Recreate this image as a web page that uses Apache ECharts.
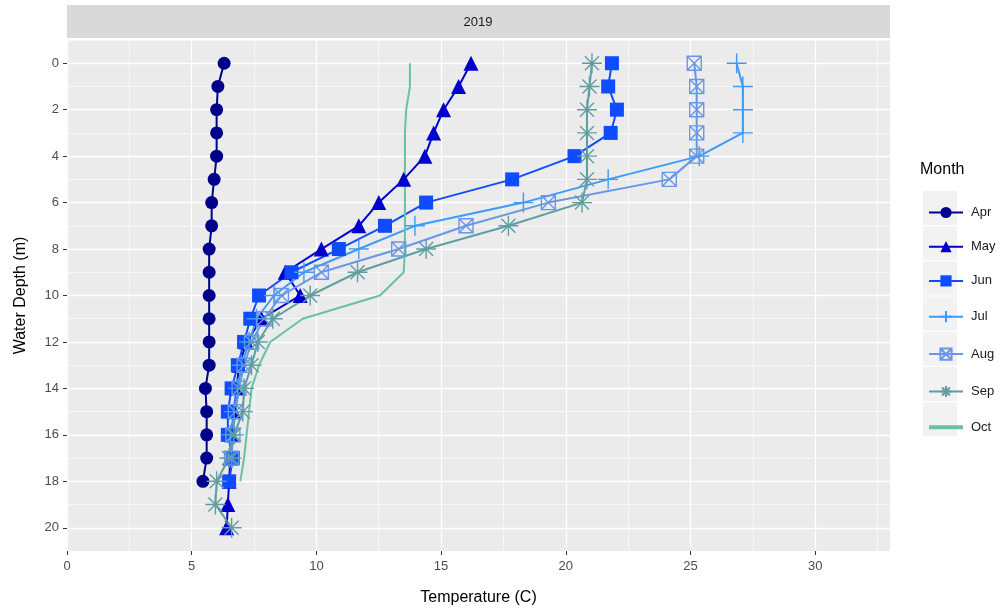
<!DOCTYPE html>
<html>
<head>
<meta charset="utf-8">
<script src="https://cdn.jsdelivr.net/npm/echarts@6/dist/echarts.min.js"></script>
<style>
html,body{margin:0;padding:0;background:#fff}
#chart{width:1002px;height:613px}
</style>
</head>
<body>
<div id="chart"></div>
<script>
// depth (m) of each reading, temperatures per month read top -> bottom
let depths=[0,1,2,3,4,5,6,7,8,9,10,11,12,13,14,15,16,17,18,19,20]
let months=['Apr','May','Jun','Jul','Aug','Sep','Oct']
let apr=[6.3,6.05,6.0,6.0,6.0,5.9,5.8,5.8,5.7,5.7,5.7,5.7,5.7,5.7,5.55,5.6,5.6,5.6,5.45]
let may=[16.2,15.7,15.1,14.7,14.35,13.5,12.5,11.7,10.2,8.75,9.35,7.8,7.2,6.9,6.8,6.7,6.6,6.55,6.5,6.45,6.4]
let jun=[21.85,21.7,22.05,21.8,20.35,17.85,14.4,12.75,10.9,9.0,7.7,7.35,7.1,6.85,6.6,6.45,6.45,6.65,6.5]
let jul=[26.85,27.1,27.1,27.1,25.35,21.7,18.3,13.95,11.7,9.5,8.3,7.6,7.3,7.0,6.85,6.7,6.55,6.6]
let aug=[25.15,25.25,25.25,25.25,25.25,24.15,19.3,16.0,13.3,10.2,8.6,7.9,7.4,7.1,6.9,6.75,6.65,6.6]
let sep=[21.05,20.95,20.85,20.85,20.85,20.85,20.65,17.7,14.4,11.65,9.75,8.25,7.65,7.4,7.1,7.05,6.7,6.5,6.0,5.95,6.6]
let oct=[13.75,13.75,13.6,13.55,13.55,13.55,13.55,13.55,13.55,13.5,12.55,9.45,8.15,7.7,7.4,7.3,7.2,7.1,6.95]
let xTicks=[0,5,10,15,20,25,30]
let yTicks=[0,2,4,6,8,10,12,14,16,18,20]

let colors=['#00008B','#0000CD','#0F4CFF','#3D9BF7','#6A96E8','#5F9EA0','#66C2A5']
let plusPath='path://M0,5L10,5M5,0L5,10'
let starPath='path://M5,0L5,10M0,5L10,5M1.5,1.5L8.5,8.5M8.5,1.5L1.5,8.5'
let boxPath='path://M0,0L10,0L10,10L0,10ZM0,0L10,10M10,0L0,10'
let barPath='path://M0,4.4L10,4.4L10,5.6L0,5.6Z'

function pairs(temps){
    return temps.map((t,i)=>[t,depths[i]])
}

let font='"Liberation Sans", Arial, sans-serif'
let allTemps=[apr,may,jun,jul,aug,sep,oct]
let symbols=[
    {symbol:'circle',size:13,fill:true},
    {symbol:'triangle',size:15,fill:true},
    {symbol:'rect',size:14,fill:true},
    {symbol:plusPath,size:20,fill:false},
    {symbol:boxPath,size:14,fill:false},
    {symbol:starPath,size:20,fill:false},
    {symbol:'none',size:0,fill:true}
]

let series=months.map((m,i)=>{
    let s=symbols[i]
    return {
        name:m,
        type:'line',
        xAxisIndex:1,
        yAxisIndex:0,
        data:pairs(allTemps[i]),
        symbol:s.symbol,
        symbolSize:s.size,
        showSymbol:s.symbol!='none',
        lineStyle:{color:colors[i],width:2},
        itemStyle:s.fill?{color:colors[i]}:{color:'none',borderColor:colors[i],borderWidth:1.4},
        emphasis:{disabled:true}
    }
})

let keyRects=months.map((m,i)=>({
    type:'rect',
    shape:{x:923,y:191+i*35.2,width:34,height:34},
    style:{fill:'#F2F2F2'},
    z:1
}))

let legendData=months.map(m=>m=='Oct'?{name:m,icon:barPath}:{name:m})

let myChart=echarts.init(document.getElementById('chart'))
let option={
    animation:false,
    textStyle:{fontFamily:font},
    grid:{left:67,right:112,top:40,bottom:62,show:true,backgroundColor:'#EBEBEB',borderWidth:0},
    xAxis:[{
        type:'value',min:0,max:33,interval:2.5,
        axisLabel:{show:false},axisTick:{show:false},axisLine:{show:false,onZero:false},
        splitLine:{show:true,lineStyle:{color:'#fff',width:0.6}}
    },{
        type:'value',min:0,max:33,interval:5,position:'bottom',
        name:'Temperature (C)',nameLocation:'middle',nameGap:39,
        nameTextStyle:{fontSize:16,color:'#000',fontFamily:font},
        axisLabel:{customValues:xTicks,fontSize:13,color:'#4D4D4D',margin:9,fontFamily:font},
        axisTick:{customValues:xTicks,length:4,lineStyle:{color:'#333',width:1}},
        axisLine:{show:false,onZero:false},
        splitLine:{show:true,lineStyle:{color:'#fff',width:1.3}}
    }],
    yAxis:[{
        type:'value',min:-1,max:21,inverse:true,position:'left',
        name:'Water Depth (m)',nameLocation:'middle',nameGap:38,
        nameTextStyle:{fontSize:16,color:'#000',fontFamily:font},
        axisLabel:{customValues:yTicks,fontSize:13,color:'#4D4D4D',margin:8,fontFamily:font},
        axisTick:{customValues:yTicks,length:4,lineStyle:{color:'#333',width:1}},
        axisLine:{show:false,onZero:false},
        splitLine:{show:true,lineStyle:{color:'#fff',width:1.3}}
    },{
        type:'value',min:-1,max:21,interval:1,inverse:true,position:'right',
        axisLabel:{show:false},axisTick:{show:false},axisLine:{show:false,onZero:false},
        splitLine:{show:true,lineStyle:{color:'#fff',width:0.6}}
    }],
    legend:{
        orient:'vertical',left:923,top:201,
        itemWidth:34,itemHeight:14,itemGap:21.2,
        textStyle:{fontSize:13,color:'#1A1A1A',fontFamily:font,padding:[0,0,0,3]},
        data:legendData,z:10
    },
    graphic:[{
        type:'rect',shape:{x:67,y:5,width:823,height:33},style:{fill:'#D9D9D9'}
    },{
        type:'text',x:478,y:22,style:{text:'2019',fill:'#1A1A1A',align:'center',verticalAlign:'middle',font:'13px '+font}
    },{
        type:'text',x:920,y:170,style:{text:'Month',fill:'#000',verticalAlign:'middle',font:'16px '+font}
    }].concat(keyRects),
    series:series
}
myChart.setOption(option)
</script>
</body>
</html>
